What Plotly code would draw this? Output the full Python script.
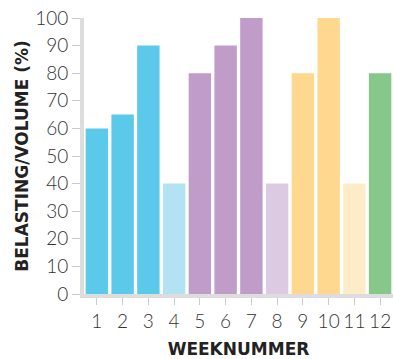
import plotly.graph_objects as go

weeks = [1, 2, 3, 4, 5, 6, 7, 8, 9, 10, 11, 12]
belasting = [60, 65, 90, 40, 80, 90, 100, 40, 80, 100, 40, 80]
colors = ["#5BC9EA", "#5BC9EA", "#5BC9EA", "#B3E2F3",
          "#C09DC9", "#C09DC9", "#C09DC9", "#DCCAE2",
          "#FDD88E", "#FDD88E", "#FEEBC8", "#86C78A"]
y_ticks = [0, 10, 20, 30, 40, 50, 60, 70, 80, 90, 100]

fig = go.Figure(go.Bar(x=weeks, y=belasting, marker=dict(color=colors, line=dict(width=0)),
                       hoverinfo="skip"))

title_font = dict(family="DejaVu Sans", size=17, color="#222222", weight="bold")
tick_font = dict(family="Lato", size=19, color="#333333", weight=300)

fig.update_layout(
    width=393, height=359,
    margin=dict(l=84, r=0, t=18, b=65),
    paper_bgcolor="white", plot_bgcolor="white",
    bargap=0.13, showlegend=False,
    font=dict(family="Lato", color="#333333"),
)
fig.update_xaxes(
    range=[0.5, 12.5], tickmode="array", tickvals=weeks, ticktext=[str(w) for w in weeks],
    showgrid=False, zeroline=False,
    showline=True, linecolor="#DDDDDD", linewidth=4,
    ticks="outside", ticklen=7, tickcolor="#CCCCCC", tickwidth=1,
    tickfont=tick_font,
    title=dict(text="WEEKNUMMER", font=title_font, standoff=16),
)
fig.update_yaxes(
    range=[0, 100], tickmode="array", tickvals=y_ticks,
    showgrid=False, zeroline=False,
    showline=True, linecolor="#DDDDDD", linewidth=4,
    ticks="outside", ticklen=8, tickcolor="#CCCCCC", tickwidth=1,
    tickfont=tick_font,
    title=dict(text="BELASTING/VOLUME (%)", font=title_font, standoff=3),
)

fig.write_html("out.html")
